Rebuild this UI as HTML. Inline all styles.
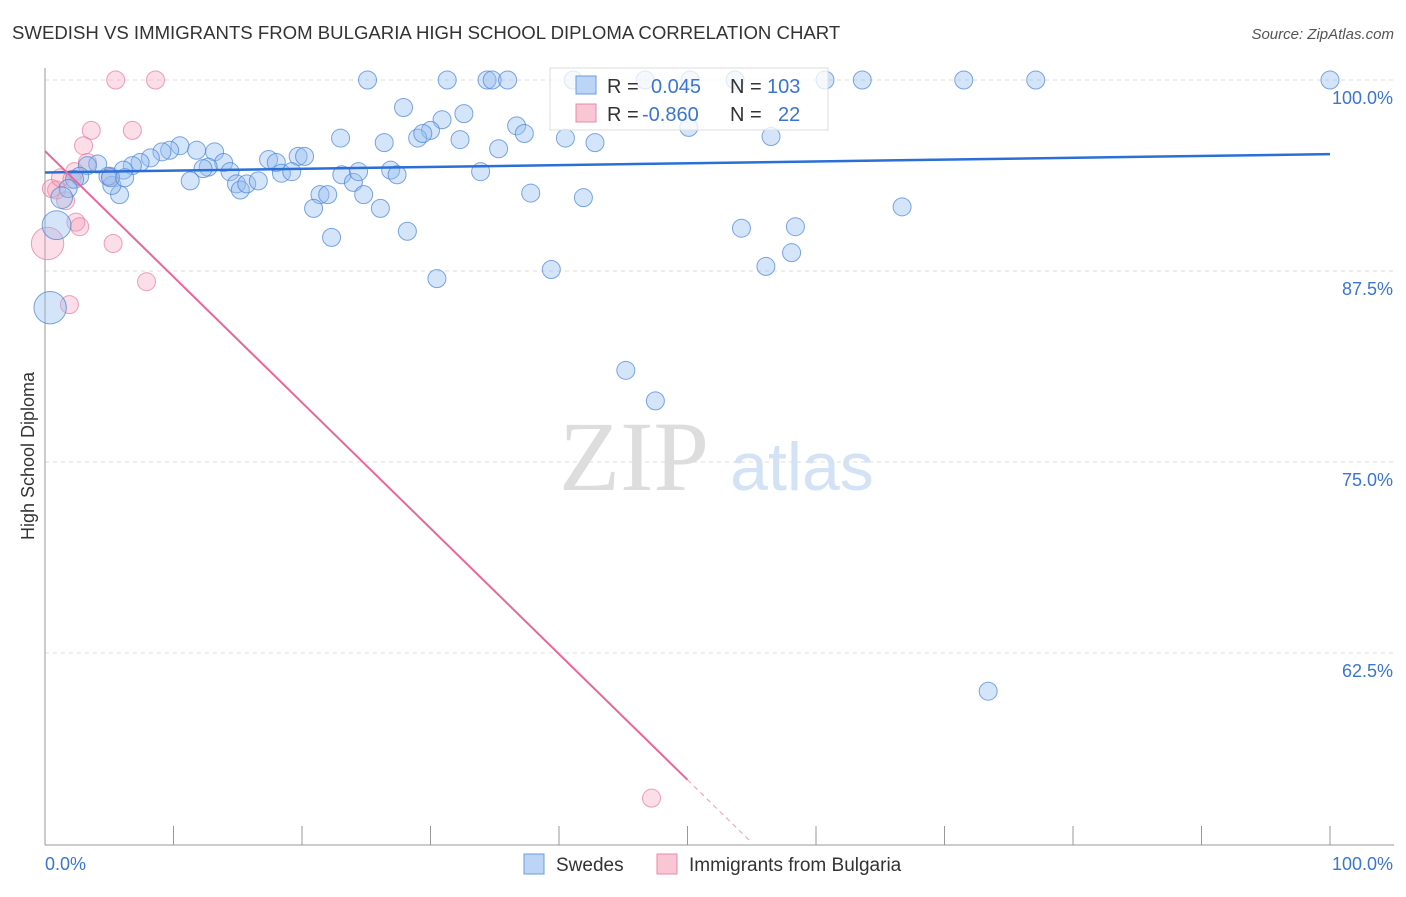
<!DOCTYPE html>
<html><head><meta charset="utf-8"><style>
body{margin:0;background:#fff;font-family:"Liberation Sans",sans-serif}
svg text{font-family:"Liberation Sans",sans-serif}
</style></head><body>
<svg id="c" width="1406" height="892">
<text x="12" y="39" font-size="18.6" fill="#333">SWEDISH VS IMMIGRANTS FROM BULGARIA HIGH SCHOOL DIPLOMA CORRELATION CHART</text>
<text x="1394" y="39" font-size="15" fill="#555" text-anchor="end" font-style="italic">Source: ZipAtlas.com</text>
<g><text x="634" y="490" font-size="100" fill="#ddd" style="font-family:'Liberation Serif',serif" text-anchor="middle">ZIP</text><text x="802" y="490" font-size="68" fill="#d3e3f5" text-anchor="middle">atlas</text></g>
<g id="grid"></g><g id="axes"></g><g id="pts"></g><g id="lines"></g>
<text transform="translate(34,456) rotate(-90)" font-size="18" fill="#333" text-anchor="middle">High School Diploma</text>
<g>
<rect x="550" y="68" width="278" height="62" fill="rgba(255,255,255,0.75)" stroke="#ddd"/>
<rect x="576" y="76" width="20" height="18" fill="#bcd4f5" stroke="#6a9be0"/>
<rect x="576" y="104" width="20" height="18" fill="#f9c6d4" stroke="#e88aa8"/>
<text x="607" y="93" font-size="20" fill="#333">R = </text><text x="651" y="93" font-size="20" fill="#3a75d0">0.045</text>
<text x="730" y="93" font-size="20" fill="#333">N = </text><text x="767" y="93" font-size="20" fill="#3a75d0">103</text>
<text x="607" y="121" font-size="20" fill="#333">R = </text><text x="642" y="121" font-size="20" fill="#3a75d0">-0.860</text>
<text x="730" y="121" font-size="20" fill="#333">N = </text><text x="778" y="121" font-size="20" fill="#3a75d0">22</text>
</g>
<g>
<rect x="524" y="854" width="20" height="20" fill="#bcd4f5" stroke="#6a9be0"/><text x="556" y="871" font-size="19" fill="#333">Swedes</text>
<rect x="657" y="854" width="20" height="20" fill="#f9c6d4" stroke="#e88aa8"/><text x="689" y="871" font-size="19" fill="#333">Immigrants from Bulgaria</text>
</g>
</svg>
<script>
const yTicks=[100,87.5,75,62.5];
const yTickLabels=["100.0%","87.5%","75.0%","62.5%"];
const xTickLabels=["0.0%","100.0%"];
const blueX=[25.1,31.3,34.4,34.8,36.0,41.1,46.7,50.2,53.7,60.7,63.6,71.5,77.1,100,27.9,32.6,30.9,30.0,36.7,37.3,23.0,26.4,29.0,29.4,32.3,40.5,42.8,50.1,56.5,35.3,10.5,11.8,9.7,9.1,13.2,8.2,7.4,6.8,6.1,17.4,18.0,19.7,20.2,13.9,12.7,12.3,11.3,14.4,14.9,15.2,15.7,16.6,18.4,19.2,23.1,24.0,24.4,26.9,27.4,33.9,21.4,22.0,24.8,20.9,26.1,37.8,41.9,22.3,28.2,54.2,58.4,66.7,39.4,30.5,56.1,58.1,45.2,47.5,73.4,5.8,5.2,4.9,4.1,3.3,2.7,2.3,1.8,1.3,0.9,0.4,5.1,6.2];
const blueY=[100,100,100,100,100,100,100,100,100,100,100,100,100,100,98.2,97.8,97.4,96.7,97.0,96.5,96.2,95.9,96.2,96.5,96.1,96.2,95.9,96.9,96.3,95.5,95.7,95.4,95.4,95.3,95.3,94.9,94.6,94.4,94.1,94.8,94.6,95.0,95.0,94.6,94.3,94.2,93.4,94.0,93.2,92.8,93.2,93.4,93.9,94.0,93.8,93.3,94.0,94.1,93.8,94.0,92.5,92.5,92.5,91.6,91.6,92.6,92.3,89.7,90.1,90.3,90.4,91.7,87.6,87.0,87.8,88.7,81.0,79.0,60.0,92.5,93.1,93.7,94.5,94.4,93.7,93.5,92.9,92.3,90.5,85.1,93.6,93.6];
const blueW=blueX.map((v,i)=>i==88?1.6:(i==89?1.8:(i==87?1.2:1)));
const pinkX=[5.5,8.6,3.6,6.8,3.0,3.3,2.3,0.9,0.5,1.6,2.4,2.7,5.3,7.9,1.9,0.2,47.2,1.2,2.1,5.1];
const pinkY=[100,100,96.7,96.7,95.7,94.6,94.0,92.8,92.9,92.1,90.7,90.4,89.3,86.8,85.3,89.3,53.0,93.6,93.5,93.7];
const pinkW=pinkX.map((v,i)=>i==15?1.8:1);
const blueLine=[93.95,95.15];
const pinkLine=[95.35,-0.823];
const X=v=>45+v*12.85, Y=v=>80+(100-v)*15.28;
const NS="http://www.w3.org/2000/svg";
function mk(p,t,a){const e=document.createElementNS(NS,t);for(const k in a)e.setAttribute(k,a[k]);document.getElementById(p).appendChild(e);return e;}
yTicks.forEach((t,i)=>{
 const l=mk('grid','line',{x1:45,x2:1394,y1:Y(t),y2:Y(t),stroke:'#ddd','stroke-dasharray':'4,4'});
 
 
 const tx=mk('grid','text',{x:1393,y:Y(t)+24,'font-size':18,fill:'#3a75d0','text-anchor':'end'});tx.textContent=yTickLabels[i];
 
 
});
mk('axes','line',{x1:45,x2:45,y1:68,y2:845,stroke:'#999'});
mk('axes','line',{x1:45,x2:1394,y1:845,y2:845,stroke:'#999'});
for(let i=0;i<=10;i++){const t=mk('axes','line',{x1:X(i*10),x2:X(i*10),y1:826,y2:845,stroke:'#999'});
 
 }
const t0=mk('axes','text',{x:45,y:870,'font-size':18,fill:'#3a75d0'});t0.textContent=xTickLabels[0];


const t1=mk('axes','text',{x:1393,y:870,'font-size':18,fill:'#3a75d0','text-anchor':'end'});t1.textContent=xTickLabels[1];


pinkX.forEach((x,i)=>{const c=mk('pts','circle',{cx:X(x),cy:Y(pinkY[i]),r:9*pinkW[i],fill:'rgba(244,160,185,0.35)',stroke:'rgba(232,120,155,0.7)'});
 
 });
blueX.forEach((x,i)=>{const c=mk('pts','circle',{cx:X(x),cy:Y(blueY[i]),r:9*blueW[i],fill:'rgba(150,190,240,0.4)',stroke:'rgba(70,130,215,0.7)'});
 
 });
const bl=mk('lines','line',{x1:X(0),y1:Y(blueLine[0]),x2:X(100),y2:Y(blueLine[1]),stroke:'#2a6fd6','stroke-width':2.5});


const pl=mk('lines','line',{x1:X(0),y1:Y(pinkLine[0]),x2:X(50),y2:Y(pinkLine[0]+pinkLine[1]*50),stroke:'#e8679a','stroke-width':2});


const pd=mk('lines','line',{x1:X(50),y1:Y(pinkLine[0]+pinkLine[1]*50),x2:X(55),y2:Y(pinkLine[0]+pinkLine[1]*55),stroke:'#e8a0b8','stroke-width':1,'stroke-dasharray':'5,4'});


</script>
</body></html>
